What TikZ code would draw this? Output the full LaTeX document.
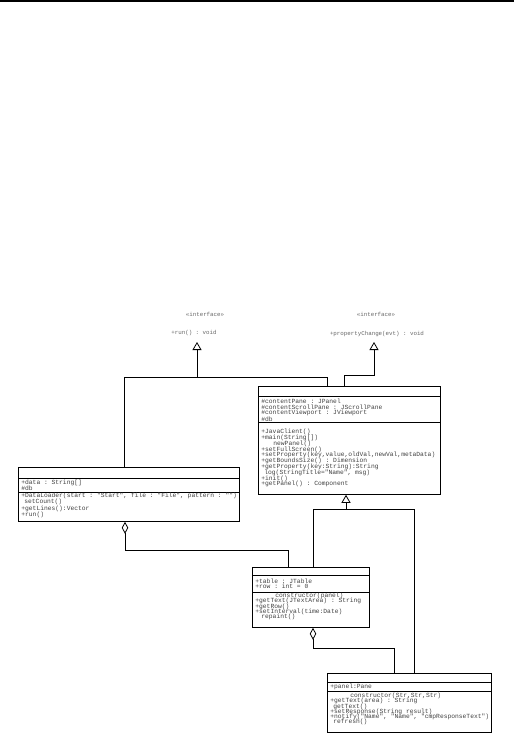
\documentclass[tikz,border=0pt]{standalone}
\usepackage{fontspec}
\setmainfont{Liberation Sans}
\setmonofont{Liberation Mono}
\usetikzlibrary{arrows.meta,calc}
\begin{document}
\begin{tikzpicture}[x=1pt,y=-1pt,line width=0.8pt,
  cls/.style={draw,rectangle,inner sep=0pt,anchor=north west},
  txt/.style={anchor=west,inner sep=0pt,font=\fontsize{6.3}{6.3}\selectfont\ttfamily,text=black!75},
  itxt/.style={inner sep=0pt,font=\fontsize{5.8}{5.8}\selectfont\ttfamily,text=black!60},
  gen/.style={-{Triangle[open,length=8pt,width=9pt]}},
  agg/.style={{Diamond[open,length=12pt,width=6.5pt]}-}]
\useasboundingbox (0,0) rectangle (514,735);
\draw[line width=2pt] (0,1.5) -- (514,1.5);

% interfaces
\node[itxt] (i1s) at (205,314) {«interface»};
\node[itxt] (i1n) at (194,333) {+run() : void};
\coordinate (i1) at (197,342);
\node[itxt] (i2s) at (376,314) {«interface»};
\node[itxt] (i2n) at (377,334) {+propertyChange(evt) : void};
\coordinate (i2) at (374,342);

% classes
\node[cls,minimum width=182pt,minimum height=108pt] (B) at (258,386) {};
\node[cls,minimum width=221pt,minimum height=54pt] (L) at (18,467) {};
\node[cls,minimum width=117pt,minimum height=60pt] (M) at (252,567) {};
\node[cls,minimum width=164pt,minimum height=59pt] (C) at (327,673) {};

% compartments
\draw (258,396) -- (440,396);
\draw (258,422) -- (440,422);
\draw (18,478) -- (239,478);
\draw (18,492) -- (239,492);
\draw (252,575) -- (369,575);
\draw (252,592) -- (369,592);
\draw (327,682) -- (491,682);
\draw (327,691) -- (491,691);

% big class text
\foreach \t [count=\i] in {{\#contentPane : JPanel},{\#contentScrollPane : JScrollPane},{\#contentViewport : JViewport},{\#db}}
  \node[txt] (ba\i) at (261,{395+6*\i}) {\t};
\foreach \t [count=\i] in {{+JavaClient()},{+main(String[])},{\hspace*{12pt}newPanel()},{+setFullScreen()},{+setProperty(key,value,oldVal,newVal,metaData)},{+getBoundsSize() : Dimension},{+getProperty(key:String):String},{\hspace*{3pt}log(StringTitle="Name", msg)},{+init()},{+getPanel() : Component}}
  \node[txt] (bm\i) at (261,{426.2+5.8*\i}) {\t};

% left class text
\node[txt] (la1) at (21,483) {+data : String[]};
\node[txt] (la2) at (21,488) {\#db};
\foreach \t [count=\i] in {{+DataLoader(start : "Start", file : "File", pattern : "")},{\hspace*{3pt}setCount()},{+getLines():Vector},{+run()}}
  \node[txt] (lm\i) at (21,{489.7+6.3*\i}) {\t};

% middle class text
\node[txt] (ma1) at (255,581) {+table : JTable};
\node[txt] (ma2) at (255,586) {+row : int = 0};
\foreach \t [count=\i] in {{\hspace*{20pt}constructor(panel)},{+getText(JTextArea) : String},{+getRow()},{+setInterval(time:Date)},{\hspace*{6pt}repaint()}}
  \node[txt] (mm\i) at (255,{590.8+5.25*\i}) {\t};

% bottom class text
\node[txt] (ca1) at (330,686.5) {+panel:Pane};
\foreach \t [count=\i] in {{\hspace*{20pt}constructor(Str,Str,Str)},{+getText(area) : String},{\hspace*{3pt}getText()},{+setResponse(String result)},{+notify("Name", "Name", "cmpResponseText")},{\hspace*{3pt}refresh()}}
  \node[txt] (cm\i) at (330,{690.8+5.2*\i}) {\t};

% realizations to interface 1
\coordinate (j1) at (197,377);
\draw ($(L.north west)+(106,0)$) |- ($(B.north west)+(69,-9)$) -- ($(B.north west)+(69,0)$);
\draw[gen] (j1) -- (i1);
% realization to interface 2
\draw[gen] ($(B.north west)+(86,0)$) |- ($(i2)+(0,33)$) -- (i2);

% generalization to B
\coordinate (j3) at (346,509);
\draw[gen] (j3) -- ($(B.south west)+(88,0)$);
\draw ($(M.north west)+(61,0)$) |- ($(C.north west)+(87,-164)$) -- ($(C.north west)+(87,0)$);

% aggregations
\draw[agg] ($(L.south west)+(107,0)$) -- ++(0,29) -| ($(M.north west)+(36,0)$);
\draw[agg] ($(M.south west)+(61,0)$) -- ++(0,21) -| ($(C.north west)+(67,0)$);
\end{tikzpicture}
\end{document}
